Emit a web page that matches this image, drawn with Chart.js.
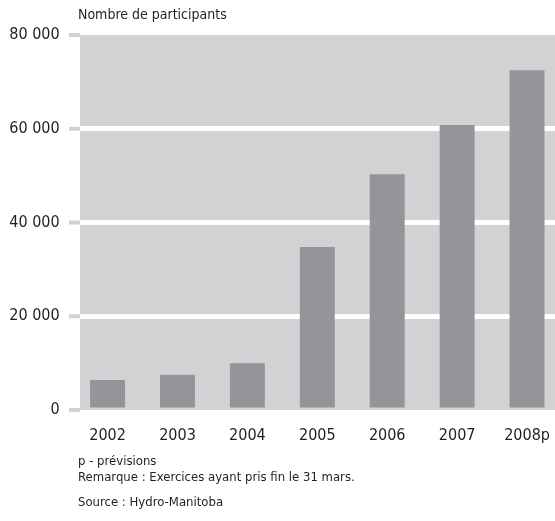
<!DOCTYPE html>
<html>
<head>
<meta charset="utf-8">
<script src="https://cdn.jsdelivr.net/npm/chart.js@4.4.1/dist/chart.umd.min.js"></script>
<style>
  html, body { margin: 0; padding: 0; background: #fff; overflow: hidden; }
  #wrap { position: relative; width: 562px; height: 521px; }
  .txt { position: absolute; left: 78px; color: #231f20; font-family: "DejaVu Sans Condensed", sans-serif; font-size: 13px; white-space: nowrap; }
</style>
</head>
<body>
<div id="wrap">
  <canvas id="chartOne"></canvas>
  <div class="txt" style="top:6px; font-size:14px;">Nombre de participants</div>
  <div class="txt" style="top:453px;">p - prévisions</div>
  <div class="txt" style="top:469px;">Remarque : Exercices ayant pris fin le 31 mars.</div>
  <div class="txt" style="top:494px;">Source : Hydro-Manitoba</div>
</div>
<script>
// données
let annees = ['2002', '2003', '2004', '2005', '2006', '2007', '2008p'];
let participants = [6400, 7500, 10000, 34800, 50300, 60800, 72500];
let yTicks = [0, 20000, 40000, 60000, 80000];

const police = '"DejaVu Sans Condensed", sans-serif';
const grisFond = '#d1d2d4';
const grisBarre = '#939598';

function espaceMilliers(v) {
    return String(v).replace(/\B(?=(\d{3})+(?!\d))/g, ' ');
}

// fond gris + petits traits de graduation
const fondPlugin = {
    id: 'fond',
    beforeDraw(chart) {
        const a = chart.chartArea;
        const ctx = chart.ctx;
        ctx.save();
        ctx.fillStyle = grisFond;
        ctx.fillRect(80, a.top, chart.width - 80, a.bottom - a.top);
        ctx.restore();
    },
    afterDraw(chart) {
        const ctx = chart.ctx;
        const y = chart.scales.y;
        ctx.save();
        ctx.strokeStyle = grisFond;
        ctx.lineWidth = 4;
        yTicks.forEach(function(t) {
            const py = y.getPixelForValue(t);
            ctx.beginPath();
            ctx.moveTo(69, py);
            ctx.lineTo(80, py);
            ctx.stroke();
        });
        ctx.restore();
    }
};

var ctxOne = document.getElementById('chartOne').getContext('2d');
var chartOne = new Chart(ctxOne, {
    type: 'bar',
    data: {
        labels: annees,
        datasets: [{
            label: 'Nombre de participants',
            data: participants,
            backgroundColor: grisBarre,
            categoryPercentage: 1,
            barPercentage: 0.5
        }]
    },
    options: {
        responsive: true,
        maintainAspectRatio: false,
        animation: false,
        layout: { padding: { top: 35, left: 0, right: 0, bottom: 0 } },
        plugins: {
            legend: { display: false },
            tooltip: { enabled: false }
        },
        scales: {
            x: {
                grid: { display: false },
                border: { display: false },
                ticks: {
                    color: '#231f20',
                    font: { family: police, size: 16 },
                    padding: 8
                },
                afterFit(scale) { scale.height = 111; }
            },
            y: {
                min: 0,
                max: 80000,
                afterBuildTicks(scale) {
                    scale.ticks = yTicks.map(function(v) { return { value: v }; });
                },
                grid: {
                    drawTicks: false,
                    lineWidth: 5,
                    color: function(c) {
                        return (c.tick && (c.tick.value === 0 || c.tick.value === 80000)) ? 'rgba(0,0,0,0)' : '#ffffff';
                    }
                },
                border: { display: false },
                ticks: {
                    color: '#231f20',
                    font: { family: police, size: 16 },
                    padding: 13,
                    callback: function(v) { return espaceMilliers(v); }
                },
                afterFit(scale) { scale.width = 72.6; }
            }
        }
    },
    plugins: [fondPlugin]
});
</script>
</body>
</html>
